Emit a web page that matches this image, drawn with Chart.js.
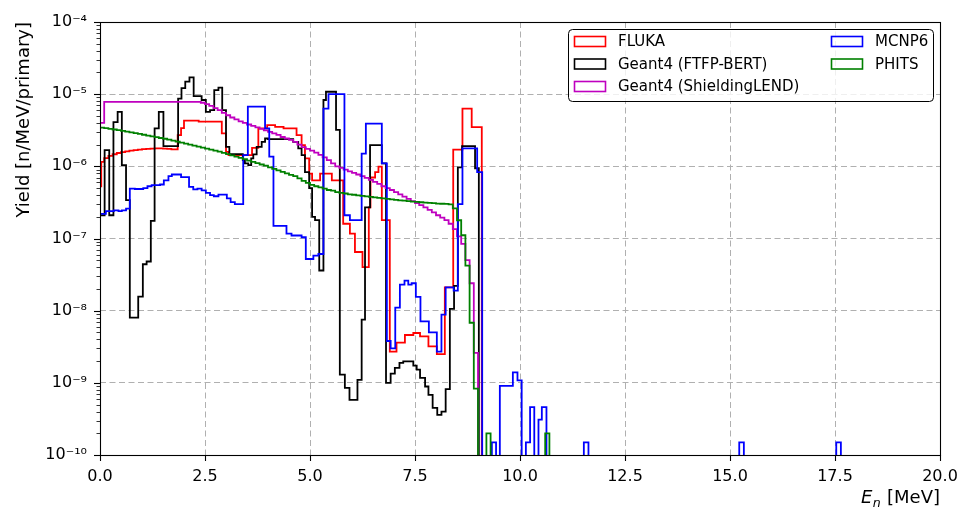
<!DOCTYPE html>
<html>
<head>
<meta charset="utf-8">
<script src="https://cdn.jsdelivr.net/npm/chart.js@4.4.1/dist/chart.umd.min.js"></script>
<style>
  html, body { margin: 0; padding: 0; background: #fff; }
  #wrap { width: 964px; height: 510px; }
</style>
</head>
<body>
<div id="wrap"><canvas id="spectrum" width="964" height="510"></canvas></div>
<script>
// neutron yield spectra (bin edges in MeV)

const seriesLabels = ['FLUKA', 'Geant4 (FTFP-BERT)', 'Geant4 (ShieldingLEND)', 'MCNP6', 'PHITS'];
const seriesColors = ['#ff0000', '#000000', '#bf00bf', '#0000ff', '#008000'];

const xTicks = [0, 2.5, 5, 7.5, 10, 12.5, 15, 17.5, 20];
const yDecades = [-10, -9, -8, -7, -6, -5, -4];

// ShieldingLEND and PHITS use a flat 0.1 MeV binning
const binWidth = 0.1;

const flukaEdges = [0, 0.03, 0.1, 0.2, 0.3, 0.4, 0.5, 0.6, 0.7, 0.8, 0.9, 1.0, 1.1, 1.2, 1.3, 1.4, 1.5, 1.6, 1.7,
  1.85, 1.93, 2.0, 2.35, 2.9, 3.0, 3.06, 3.62, 3.77, 3.98, 4.17, 4.37, 4.68, 4.8, 4.88, 4.98, 5.05, 5.24, 5.52,
  5.79, 5.95, 6.07, 6.25, 6.4, 6.44, 6.55, 6.63, 6.71, 6.9, 7.06, 7.26, 7.46, 7.62, 7.82, 8.02, 8.21, 8.41,
  8.63, 8.85, 9.09];
const flukaYield = [5.3e-7, 1.15e-6, 1.3e-6, 1.4e-6, 1.47e-6, 1.53e-6, 1.57e-6, 1.61e-6, 1.65e-6, 1.68e-6,
  1.70e-6, 1.73e-6, 1.75e-6, 1.76e-6, 1.77e-6, 1.77e-6, 1.76e-6, 1.74e-6, 1.72e-6, 2.71e-6,
  3.38e-6, 4.3e-6, 4.16e-6, 2.86e-6, 1.59e-6, 1.43e-6, 1.8e-6, 3.35e-6, 3.72e-6, 3.53e-6,
  3.35e-6, 2.71e-6, 1.97e-6, 1.29e-6, 7.9e-7, 6.4e-7, 7.9e-7, 6.4e-7, 1.6e-7, 1.17e-7,
  6.5e-8, 4.0e-8, 2.7e-7, 7.0e-7, 8.3e-7, 9.9e-7, 1.8e-7, 2.7e-9, 3.6e-9, 4.6e-9,
  4.9e-9, 4.4e-9, 3.2e-9, 2.5e-9, 2.1e-8, 1.7e-6, 6.3e-6, 3.5e-6];

const ftfpEdges = [0, 0.11, 0.22, 0.32, 0.42, 0.52, 0.62, 0.71, 0.91, 1.02, 1.11, 1.21, 1.30, 1.40, 1.51, 1.86,
  1.94, 2.03, 2.13, 2.23, 2.42, 2.52, 2.62, 2.72, 2.82, 2.91, 3.0, 3.08, 3.4, 3.45, 3.53, 3.6, 3.65, 3.73, 3.85,
  3.93, 4.0, 4.6, 4.72, 4.8, 4.88, 4.98, 5.05, 5.12, 5.22, 5.32, 5.38, 5.62, 5.71, 5.83, 5.94, 6.13, 6.23, 6.31,
  6.43, 6.71, 6.81, 6.92, 7.02, 7.13, 7.22, 7.46, 7.54, 7.62, 7.74, 7.82, 7.92, 8.03, 8.13, 8.23, 8.33, 8.43,
  8.52, 8.62, 8.93, 9.02];
const ftfpYield = [2.1e-7, 1.68e-6, 2.1e-7, 4.1e-6, 5.7e-6, 1.04e-6, 3.4e-7, 8.0e-9, 1.57e-8, 4.4e-8,
  4.8e-8, 1.75e-7, 3.35e-6, 5.7e-6, 1.9e-6, 8.7e-6, 1.21e-5, 1.49e-5, 1.71e-5, 9.4e-6,
  8.3e-6, 5.7e-6, 6.0e-6, 1.14e-5, 1.23e-5, 6.0e-6, 1.86e-6, 1.48e-6, 1.22e-6, 1.1e-6,
  1.04e-6, 1.29e-6, 1.46e-6, 1.86e-6, 2.18e-6, 2.43e-6, 2.38e-6, 2.18e-6, 1.77e-6, 1.43e-6,
  8.3e-7, 5.0e-7, 2.0e-7, 1.8e-7, 3.6e-8, 8.3e-6, 1.08e-5, 3.2e-6, 1.3e-9, 8.5e-10,
  5.8e-10, 1.1e-9, 7.5e-9, 2.7e-7, 1.97e-6, 1.1e-6, 1.0e-9, 1.34e-9, 1.61e-9, 1.89e-9,
  1.98e-9, 1.73e-9, 1.52e-9, 1.17e-9, 8.9e-10, 6.8e-10, 4.5e-10, 3.6e-10, 4.0e-10, 8.2e-10,
  1.06e-8, 2.2e-8, 9.7e-7, 1.9e-6, 9.4e-7];

const lendYield = [4.0e-6,
  7.8e-6, 7.8e-6, 7.8e-6, 7.8e-6, 7.8e-6, 7.8e-6, 7.8e-6, 7.8e-6, 7.8e-6, 7.8e-6,
  7.8e-6, 7.8e-6, 7.8e-6, 7.8e-6, 7.8e-6, 7.8e-6, 7.8e-6, 7.8e-6, 7.8e-6, 7.8e-6,
  7.8e-6, 7.8e-6, 7.8e-6, 7.6e-6,
  7.3e-6, 6.9e-6, 6.4e-6, 6.0e-6, 5.5e-6, 5.1e-6, 4.75e-6, 4.46e-6, 4.19e-6, 4.0e-6,
  3.8e-6, 3.63e-6, 3.46e-6, 3.3e-6, 3.14e-6, 3.0e-6, 2.86e-6, 2.72e-6, 2.55e-6, 2.43e-6,
  2.32e-6, 2.18e-6, 2.0e-6, 1.85e-6, 1.75e-6, 1.65e-6, 1.55e-6, 1.44e-6, 1.33e-6, 1.22e-6,
  1.1e-6, 1.0e-6, 9.5e-7, 9.0e-7, 8.5e-7, 8.1e-7, 7.7e-7, 7.3e-7, 6.9e-7, 6.5e-7,
  6.1e-7, 5.7e-7, 5.3e-7, 5.0e-7, 4.7e-7, 4.4e-7, 4.1e-7, 3.8e-7, 3.55e-7, 3.3e-7,
  3.1e-7, 2.9e-7, 2.7e-7, 2.5e-7, 2.3e-7, 2.1e-7, 1.95e-7, 1.8e-7, 1.6e-7, 1.35e-7,
  1.07e-7, 8.4e-8, 5.0e-8, 2.4e-8, 2.6e-9];

const mcnpEdges = [0, 0.14, 0.33, 0.44, 0.52, 0.62, 0.71, 0.83, 1.03, 1.13, 1.23, 1.43, 1.52, 1.63, 1.71, 1.93,
  2.12, 2.22, 2.32, 2.42, 2.52, 2.62, 2.71, 2.82, 3.02, 3.11, 3.21, 3.41, 3.52, 3.93, 4.03, 4.13, 4.44, 4.56,
  4.8, 4.9, 5.08, 5.2, 5.32, 5.44, 5.82, 5.95, 6.23, 6.33, 6.71, 6.83, 6.92, 7.03, 7.14, 7.25, 7.34, 7.42,
  7.52, 7.63, 7.83, 8.02, 8.13, 8.23, 8.42, 8.52, 8.63, 8.98, 9.1, 9.33, 9.43, 9.52, 9.83, 9.94, 10.04, 10.14,
  10.24, 10.34, 10.44, 10.52, 10.63, 11.52, 11.63, 15.22, 15.33, 17.53, 17.64];
const mcnpYield = [2.2e-7, 2.4e-7, 2.46e-7, 2.4e-7, 2.46e-7, 2.6e-7, 4.9e-7, 4.85e-7, 5.0e-7, 5.3e-7,
  5.5e-7, 5.6e-7, 6.4e-7, 7.3e-7, 7.7e-7, 7.1e-7, 5.2e-7, 4.8e-7, 4.9e-7, 4.65e-7,
  4.3e-7, 4.0e-7, 3.85e-7, 4.05e-7, 3.6e-7, 3.2e-7, 3.0e-7, 1.43e-6, 6.7e-6, 3.35e-6,
  1.36e-6, 1.5e-7, 1.17e-7, 1.1e-7, 1.04e-7, 5.2e-8, 5.8e-8, 6.1e-8, 6.3e-6, 1.0e-5,
  2.1e-7, 1.8e-7, 1.5e-6, 3.9e-6, 1.1e-6, 3.8e-9, 3.0e-9, 1.1e-8, 2.3e-8, 2.6e-8,
  2.3e-8, 2.4e-8, 1.55e-8, 7.1e-9, 5.0e-9, 2.7e-9, 8.8e-9, 2.1e-8, 1.9e-8, 3.0e-7,
  1.77e-6, 8.3e-7, 0, 1.5e-10, 0, 9.1e-10, 1.4e-9, 1.08e-9, 0, 1.5e-10,
  4.6e-10, 0, 3.1e-10, 4.6e-10, 0, 1.5e-10, 0, 1.5e-10, 0, 1.5e-10];

const phitsYield = [
  3.44e-6, 3.39e-6, 3.31e-6, 3.24e-6, 3.17e-6, 3.10e-6, 3.03e-6, 2.95e-6, 2.88e-6, 2.81e-6,
  2.74e-6, 2.67e-6, 2.60e-6, 2.54e-6, 2.47e-6, 2.41e-6, 2.34e-6, 2.27e-6, 2.20e-6, 2.13e-6,
  2.06e-6, 2.00e-6, 1.94e-6, 1.88e-6, 1.82e-6, 1.76e-6, 1.70e-6, 1.65e-6, 1.60e-6, 1.54e-6,
  1.48e-6, 1.42e-6, 1.36e-6, 1.31e-6, 1.26e-6, 1.20e-6, 1.15e-6, 1.11e-6, 1.06e-6, 1.02e-6,
  9.7e-7, 9.2e-7, 8.8e-7, 8.4e-7, 8.0e-7, 7.6e-7, 7.3e-7, 6.8e-7, 6.3e-7, 5.9e-7,
  5.55e-7, 5.3e-7, 5.1e-7, 4.9e-7, 4.7e-7, 4.6e-7, 4.4e-7, 4.3e-7, 4.2e-7, 4.1e-7,
  4.04e-7, 3.97e-7, 3.9e-7, 3.84e-7, 3.78e-7, 3.72e-7, 3.66e-7, 3.6e-7, 3.54e-7, 3.49e-7,
  3.43e-7, 3.38e-7, 3.34e-7, 3.29e-7, 3.25e-7, 3.21e-7, 3.18e-7, 3.15e-7, 3.12e-7, 3.09e-7,
  3.05e-7, 3.03e-7, 3.01e-7, 2.97e-7, 2.62e-7, 1.79e-7, 1.11e-7, 4.2e-8, 6.8e-9, 8.3e-10,
  0, 0, 2e-10, 0, 0, 0, 0, 0, 0, 0,
  0, 0, 0, 0, 0, 0, 2e-10];

// empty bins fall off the bottom of the log axis, like matplotlib's step outline
const FLOOR = 1e-14;

function uniformEdges(n) {
  const e = [];
  for (let i = 0; i <= n; i++) e.push(Math.round(i * binWidth * 100) / 100);
  return e;
}

// outline of a step histogram: up from the floor, across every bin, down at the end
function stepPoints(edges, values) {
  const pts = [{ x: edges[0], y: FLOOR }];
  values.forEach((v, i) => pts.push({ x: edges[i], y: v > 0 ? v : FLOOR }));
  pts.push({ x: edges[values.length], y: FLOOR });
  return pts;
}

const histos = [
  stepPoints(flukaEdges, flukaYield),
  stepPoints(ftfpEdges, ftfpYield),
  stepPoints(uniformEdges(lendYield.length), lendYield),
  stepPoints(mcnpEdges, mcnpYield),
  stepPoints(uniformEdges(phitsYield.length), phitsYield)
];

const SUP = { '-': '\u207B', '0': '\u2070', '1': '\u00B9', '2': '\u00B2', '3': '\u00B3', '4': '\u2074',
  '5': '\u2075', '6': '\u2076', '7': '\u2077', '8': '\u2078', '9': '\u2079' };
const FONT = 'DejaVu Sans';

// frame, tick marks, axis labels and the two-column legend, matplotlib style
const decorPlugin = {
  id: 'decor',
  afterDraw(chart) {
    const c = chart.ctx;
    const a = chart.chartArea;
    const xs = chart.scales.x, ys = chart.scales.y;
    c.save();
    c.strokeStyle = '#000';

    c.lineWidth = 1.1;
    xTicks.forEach(v => {
      const px = Math.round(xs.getPixelForValue(v)) + 0.5;
      c.beginPath(); c.moveTo(px, a.bottom); c.lineTo(px, a.bottom + 6); c.stroke();
    });
    yDecades.forEach(e => {
      const py = Math.round(ys.getPixelForValue(Math.pow(10, e))) + 0.5;
      c.lineWidth = 1.1;
      c.beginPath(); c.moveTo(a.left - 6, py); c.lineTo(a.left, py); c.stroke();
      if (e < -4) {
        c.lineWidth = 0.8;
        for (let m = 2; m <= 9; m++) {
          const pm = Math.round(ys.getPixelForValue(m * Math.pow(10, e))) + 0.5;
          c.beginPath(); c.moveTo(a.left - 3.5, pm); c.lineTo(a.left, pm); c.stroke();
        }
      }
    });

    c.lineWidth = 1.1;
    c.strokeRect(Math.round(a.left) + 0.5, Math.round(a.top) + 0.5,
      Math.round(a.right - a.left), Math.round(a.bottom - a.top));

    // y label, aligned to the top of the axis
    c.fillStyle = '#000';
    c.save();
    c.translate(29, a.top);
    c.rotate(-Math.PI / 2);
    c.font = '18px "' + FONT + '"';
    c.textAlign = 'right';
    c.textBaseline = 'alphabetic';
    c.fillText('Yield [n/MeV/primary]', 0, 0);
    c.restore();

    // x label E_n [MeV], aligned to the right end of the axis
    const base = 503;
    c.textAlign = 'left';
    c.textBaseline = 'alphabetic';
    c.font = '18px "' + FONT + '"';
    const unitW = c.measureText(' [MeV]').width;
    c.font = 'italic 12.6px "' + FONT + '"';
    const subW = c.measureText('n').width;
    c.font = 'italic 18px "' + FONT + '"';
    const eW = c.measureText('E').width;
    let x = a.right - unitW - subW - eW - 1;
    c.fillText('E', x, base);
    x += eW + 0.5;
    c.font = 'italic 12.6px "' + FONT + '"';
    c.fillText('n', x, base + 4);
    x += subW + 0.5;
    c.font = '18px "' + FONT + '"';
    c.fillText(' [MeV]', x, base);

    // legend box
    const bx = 568.5, by = 29.5, bw = 365, bh = 72, r = 4;
    c.beginPath();
    c.moveTo(bx + r, by);
    c.arcTo(bx + bw, by, bx + bw, by + bh, r);
    c.arcTo(bx + bw, by + bh, bx, by + bh, r);
    c.arcTo(bx, by + bh, bx, by, r);
    c.arcTo(bx, by, bx + bw, by, r);
    c.closePath();
    c.fillStyle = 'rgba(255,255,255,0.8)';
    c.fill();
    c.strokeStyle = '#000';
    c.lineWidth = 1;
    c.stroke();

    const rows = [41.5, 64, 86.5];
    c.font = '15px "' + FONT + '"';
    c.textBaseline = 'middle';
    chart.data.datasets.forEach((ds, i) => {
      const col = i < 3 ? 0 : 1;
      const cy = rows[col ? i - 3 : i];
      const hx = col ? 831 : 574;
      c.strokeStyle = ds.borderColor;
      c.lineWidth = 1.6;
      c.strokeRect(hx + 0.5, cy - 5, 31, 10);
      c.fillStyle = '#000';
      c.fillText(ds.label, col ? 875 : 618, cy + 1);
    });
    c.restore();
  }
};

const ctx = document.getElementById('spectrum').getContext('2d');
new Chart(ctx, {
  type: 'line',
  data: {
    datasets: seriesLabels.map((label, i) => ({
      label: label,
      data: histos[i],
      borderColor: seriesColors[i],
      backgroundColor: seriesColors[i],
      borderWidth: 1.8,
      stepped: 'before',
      fill: false,
      pointRadius: 0,
      // PHITS on top, as in the plotting order of the original
      order: seriesLabels.length - 1 - i
    }))
  },
  options: {
    responsive: false,
    animation: false,
    layout: { padding: { top: 22, right: 24, left: 0, bottom: 0 } },
    plugins: {
      legend: { display: false },
      tooltip: { enabled: false }
    },
    scales: {
      x: {
        type: 'linear',
        min: 0,
        max: 20,
        afterFit: s => { s.height = 55; s.paddingLeft = 0; s.paddingRight = 0; },
        afterBuildTicks: s => { s.ticks = xTicks.map(v => ({ value: v })); },
        ticks: {
          autoSkip: false,
          maxRotation: 0,
          padding: 12,
          color: '#000',
          font: { family: FONT, size: 16 },
          callback: v => Number(v).toFixed(1)
        },
        grid: { color: '#b0b0b0', lineWidth: 1, drawTicks: false },
        border: { display: false, dash: [6, 3.5] }
      },
      y: {
        type: 'logarithmic',
        min: 1e-10,
        max: 1e-4,
        afterFit: s => { s.width = 100; s.paddingTop = 0; s.paddingBottom = 0; },
        afterBuildTicks: s => { s.ticks = yDecades.map(e => ({ value: Math.pow(10, e), major: true })); },
        ticks: {
          autoSkip: false,
          padding: 13,
          color: '#000',
          font: { family: FONT, size: 16 },
          callback: v => '10' + String(Math.round(Math.log10(v))).split('').map(ch => SUP[ch]).join('')
        },
        grid: { color: '#b0b0b0', lineWidth: 1, drawTicks: false },
        border: { display: false, dash: [6, 3.5] }
      }
    }
  },
  plugins: [decorPlugin]
});
</script>
</body>
</html>
